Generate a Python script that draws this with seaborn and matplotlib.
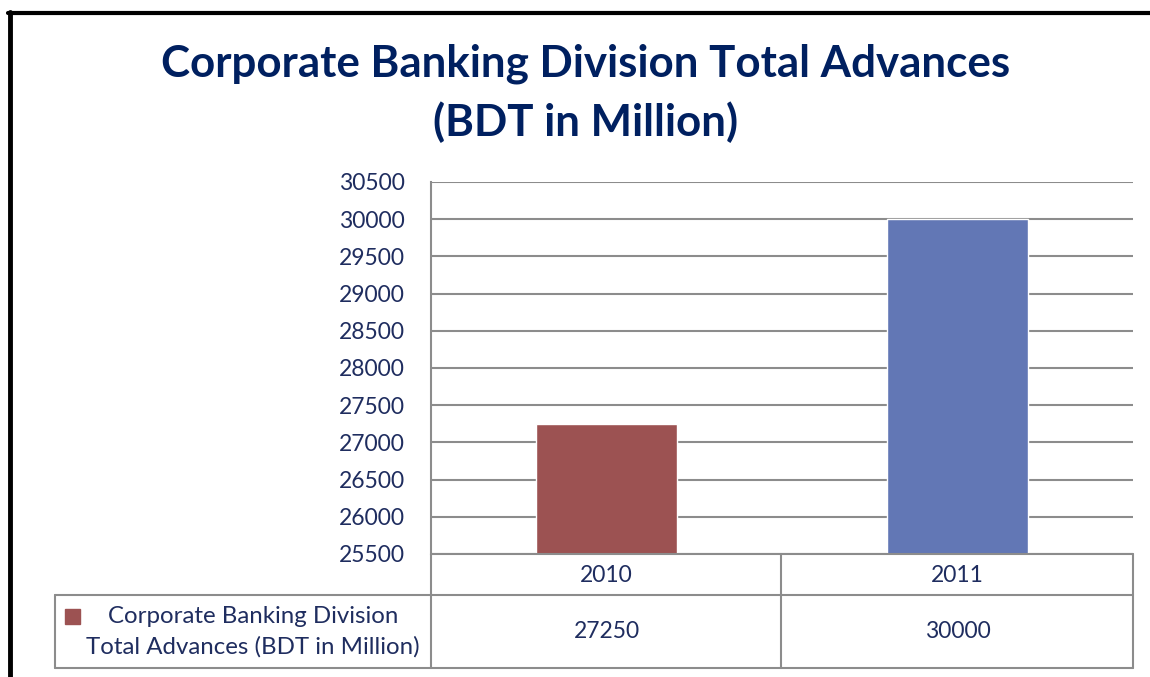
import matplotlib
matplotlib.use("Agg")
import matplotlib.pyplot as plt
import seaborn as sns
import pandas as pd
from matplotlib.lines import Line2D
from matplotlib.patches import Rectangle
import matplotlib.transforms as mtransforms

years = ["2010", "2011"]
advances = [27250, 30000]
bar_colors = ["#9C5252", "#6277B5"]
series_name = "Corporate Banking Division\nTotal Advances (BDT in Million)"
title = "Corporate Banking Division Total Advances\n(BDT in Million)"
y_ticks = list(range(25500, 30501, 500))

text_color = "#1F2D5F"
grid_color = "#8C8C8C"

df = pd.DataFrame({"year": years, "value": advances})

sns.set_style("white")
plt.rcParams["font.family"] = ["Lato", "DejaVu Sans"]

W, H = 1150, 677
fig = plt.figure(figsize=(W / 100, H / 100), dpi=100)


def fx(px):
    return px / W


def fy(py):
    return 1 - py / H


ax = fig.add_axes([fx(431), fy(554), fx(1133) - fx(431), fy(182) - fy(554)])
sns.barplot(data=df, x="year", y="value", hue="year", palette=bar_colors,
            width=0.4, legend=False, ax=ax, saturation=1)
ax.set_ylim(y_ticks[0], y_ticks[-1])
ax.set_xlim(-0.5, 1.5)
ax.set_yticks(y_ticks)
ax.set_yticklabels([str(t) for t in y_ticks], fontsize=16.5, color=text_color)
ax.tick_params(axis="y", length=0, pad=19)
ax.set_xticks([])
ax.set_xlabel("")
ax.set_ylabel("")
ax.yaxis.grid(True, color=grid_color, linewidth=1.5)
ax.set_axisbelow(True)
for side in ["top", "right", "bottom"]:
    ax.spines[side].set_visible(False)
ax.spines["left"].set_color(grid_color)
ax.spines["left"].set_linewidth(1.5)

# data table under the plot
blend = mtransforms.blended_transform_factory(ax.transData, fig.transFigure)
for i, (yr, val) in enumerate(zip(years, advances)):
    ax.text(i, fy(575), yr, transform=blend, ha="center", va="center",
            fontsize=16.5, color=text_color)
    ax.text(i, fy(632), str(val), transform=blend, ha="center", va="center",
            fontsize=16.5, color=text_color)

lw = 1.5
table_lines = [
    ((431, 1133), (554, 554)),
    ((55, 1133), (595, 595)),
    ((55, 1133), (668, 668)),
    ((55, 55), (595, 668)),
    ((431, 431), (554, 668)),
    ((781, 781), (554, 668)),
    ((1133, 1133), (554, 668)),
]
for xs, ys in table_lines:
    fig.add_artist(Line2D([fx(x) for x in xs], [fy(y) for y in ys],
                          color=grid_color, linewidth=lw))

fig.add_artist(Rectangle((fx(65), fy(624)), fx(15), fy(609) - fy(624),
                         color=bar_colors[0], transform=fig.transFigure))
fig.text(fx(253), fy(632), series_name, ha="center", va="center",
         fontsize=17.3, color=text_color, linespacing=1.5)

fig.text(fx(586), fy(93), title, ha="center", va="center", fontsize=31.6,
         fontweight="bold", color="#002060", linespacing=1.5)

# outer frame of the slide
fig.add_artist(Line2D([fx(10), fx(10)], [fy(12), 0], color="black", linewidth=3.5))
fig.add_artist(Line2D([fx(8), 1], [fy(13), fy(13)], color="black", linewidth=3))

fig.savefig("out.png", dpi=100)
